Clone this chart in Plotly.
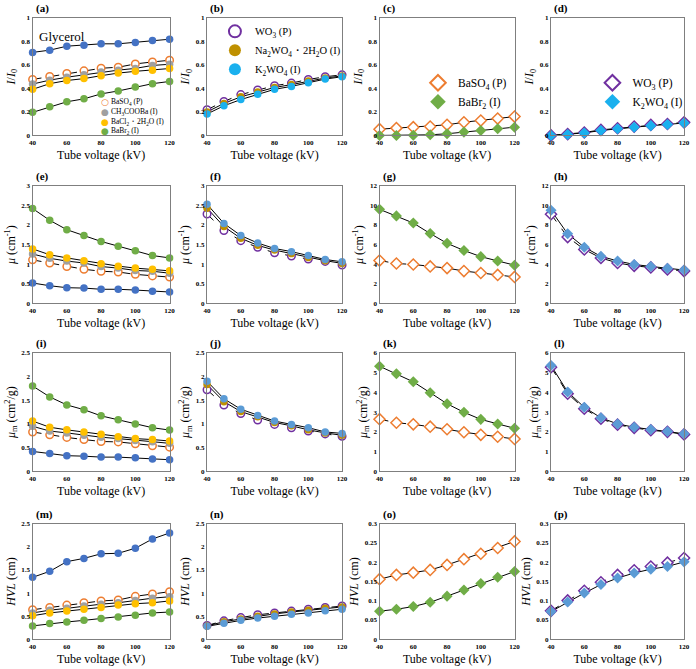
import plotly.graph_objects as go

# ---------------- data ----------------
voltage = [40, 50, 60, 70, 80, 90, 100, 110, 120]
x_ticks = [40, 60, 80, 100, 120]

# (a) I/I0, Ba compounds
a_glycerol = [0.706, 0.725, 0.759, 0.767, 0.779, 0.779, 0.790, 0.807, 0.818]
a_baso4 = [0.476, 0.501, 0.527, 0.549, 0.571, 0.580, 0.608, 0.625, 0.639]
a_acetate = [0.437, 0.470, 0.495, 0.515, 0.540, 0.555, 0.570, 0.595, 0.605]
a_bacl2 = [0.392, 0.440, 0.467, 0.483, 0.508, 0.530, 0.545, 0.555, 0.569]
a_babr2 = [0.196, 0.244, 0.286, 0.311, 0.353, 0.378, 0.412, 0.440, 0.459]
# (b) I/I0, W compounds
b_wo3 = [0.218, 0.289, 0.347, 0.387, 0.423, 0.445, 0.476, 0.499, 0.515]
b_na2wo4 = [0.200, 0.272, 0.328, 0.370, 0.408, 0.432, 0.462, 0.488, 0.506]
b_k2wo4 = [0.182, 0.252, 0.305, 0.350, 0.392, 0.417, 0.448, 0.479, 0.499]
# (c)
c_baso4 = [0.053, 0.062, 0.070, 0.076, 0.090, 0.112, 0.126, 0.143, 0.160]
c_babr2 = [0.000, 0.000, 0.001, 0.005, 0.014, 0.028, 0.042, 0.056, 0.070]
# (d)
d_wo3 = [0.000, 0.011, 0.025, 0.047, 0.061, 0.075, 0.089, 0.097, 0.111]
d_k2wo4 = [0.000, 0.008, 0.021, 0.042, 0.057, 0.070, 0.083, 0.093, 0.106]
# (e) mu
e_glycerol = [0.52, 0.45, 0.40, 0.39, 0.36, 0.36, 0.34, 0.31, 0.29]
e_baso4 = [1.11, 1.03, 0.94, 0.87, 0.82, 0.80, 0.74, 0.70, 0.67]
e_acetate = [1.26, 1.15, 1.08, 1.03, 0.94, 0.90, 0.84, 0.82, 0.77]
e_bacl2 = [1.39, 1.24, 1.16, 1.09, 1.01, 0.95, 0.90, 0.87, 0.83]
e_babr2 = [2.42, 2.12, 1.88, 1.73, 1.58, 1.46, 1.34, 1.22, 1.16]
# (f)
f_wo3 = [2.28, 1.86, 1.60, 1.43, 1.29, 1.21, 1.13, 1.07, 0.98]
f_na2wo4 = [2.43, 1.96, 1.66, 1.48, 1.36, 1.27, 1.17, 1.09, 1.02]
f_k2wo4 = [2.53, 2.04, 1.73, 1.54, 1.40, 1.32, 1.22, 1.12, 1.06]
# (g)
g_baso4 = [4.37, 4.07, 3.97, 3.77, 3.60, 3.30, 3.10, 2.90, 2.70]
g_babr2 = [9.60, 8.93, 8.20, 7.13, 6.13, 5.40, 4.77, 4.33, 3.90]
# (h)
h_wo3 = [9.10, 6.77, 5.50, 4.63, 4.13, 3.83, 3.67, 3.47, 3.30]
h_k2wo4 = [9.50, 7.10, 5.73, 4.80, 4.33, 3.97, 3.77, 3.57, 3.40]
# (i) mu_m
i_glycerol = [0.42, 0.375, 0.33, 0.32, 0.30, 0.30, 0.285, 0.26, 0.245]
i_baso4 = [0.83, 0.77, 0.715, 0.67, 0.63, 0.62, 0.58, 0.54, 0.51]
i_acetate = [0.95, 0.85, 0.81, 0.76, 0.72, 0.69, 0.65, 0.625, 0.59]
i_bacl2 = [1.06, 0.93, 0.875, 0.83, 0.78, 0.73, 0.69, 0.67, 0.64]
i_babr2 = [1.80, 1.57, 1.40, 1.30, 1.17, 1.09, 1.00, 0.92, 0.87]
# (j)
j_wo3 = [1.72, 1.40, 1.22, 1.08, 0.99, 0.92, 0.85, 0.79, 0.74]
j_na2wo4 = [1.83, 1.47, 1.26, 1.15, 1.03, 0.96, 0.875, 0.81, 0.76]
j_k2wo4 = [1.90, 1.53, 1.31, 1.18, 1.06, 0.99, 0.92, 0.83, 0.80]
# (k)
k_baso4 = [2.64, 2.46, 2.38, 2.26, 2.13, 1.98, 1.85, 1.75, 1.64]
k_babr2 = [5.32, 4.94, 4.53, 3.98, 3.42, 2.99, 2.63, 2.40, 2.18]
# (l)
l_wo3 = [5.27, 3.93, 3.17, 2.66, 2.36, 2.20, 2.08, 2.00, 1.87]
l_k2wo4 = [5.36, 4.02, 3.24, 2.71, 2.40, 2.23, 2.12, 2.02, 1.90]
# (m) HVL
m_glycerol = [1.34, 1.47, 1.68, 1.75, 1.85, 1.86, 1.97, 2.17, 2.30]
m_baso4 = [0.64, 0.69, 0.74, 0.79, 0.83, 0.85, 0.93, 0.98, 1.03]
m_acetate = [0.57, 0.63, 0.67, 0.72, 0.76, 0.79, 0.84, 0.89, 0.92]
m_bacl2 = [0.51, 0.57, 0.61, 0.65, 0.69, 0.74, 0.77, 0.79, 0.83]
m_babr2 = [0.29, 0.34, 0.375, 0.41, 0.45, 0.48, 0.52, 0.57, 0.59]
# (n)
n_wo3 = [0.30, 0.40, 0.47, 0.53, 0.57, 0.61, 0.65, 0.69, 0.72]
n_na2wo4 = [0.29, 0.38, 0.44, 0.50, 0.55, 0.59, 0.63, 0.67, 0.70]
n_k2wo4 = [0.28, 0.35, 0.41, 0.46, 0.50, 0.54, 0.57, 0.62, 0.65]
# (o)
o_baso4 = [0.156, 0.167, 0.173, 0.180, 0.193, 0.208, 0.222, 0.237, 0.254]
o_babr2 = [0.073, 0.078, 0.085, 0.096, 0.112, 0.128, 0.145, 0.161, 0.176]
# (p)
p_wo3 = [0.074, 0.101, 0.126, 0.148, 0.167, 0.179, 0.189, 0.199, 0.211]
p_k2wo4 = [0.072, 0.097, 0.120, 0.142, 0.159, 0.172, 0.182, 0.189, 0.201]

panel_labels = ["(a)", "(b)", "(c)", "(d)", "(e)", "(f)", "(g)", "(h)",
                "(i)", "(j)", "(k)", "(l)", "(m)", "(n)", "(o)", "(p)"]
x_title = "Tube voltage (kV)"
y_titles = ["<i>I</i>/<i>I</i><sub>0</sub>",
            "<i>μ</i> (cm<sup>-1</sup>)",
            "<i>μ</i><sub>m</sub> (cm<sup>2</sup>/g)",
            "<i>HVL</i> (cm)"]

NAME_BASO4 = "BaSO<sub>4</sub> (P)"
NAME_ACET = "CH<sub>3</sub>COOBa (I)"
NAME_BACL = "BaCl<sub>2</sub>・2H<sub>2</sub>O (I)"
NAME_BABR = "BaBr<sub>2</sub> (I)"
NAME_WO3 = "WO<sub>3</sub> (P)"
NAME_NAWO = "Na<sub>2</sub>WO<sub>4</sub>・2H<sub>2</sub>O (I)"
NAME_KWO = "K<sub>2</sub>WO<sub>4</sub> (I)"

# ---------------- styles ----------------
C_GLY = "#4472C4"
C_BASO4 = "#ED7D31"
C_ACET = "#A0A0A0"
C_BACL = "#FFC000"
C_BABR = "#70AD47"
C_WO3 = "#7030A0"
C_NAWO = "#BF9000"
C_KWO_B = "#1AB0EE"
C_KWO = "#5B9BD5"

SERIF = "Liberation Serif"
W, H = 696, 669
col_px = [(29, 168), (206, 343), (381, 518), (555, 690)]
row_px = [(14, 133), (184, 303), (353, 473), (526, 643)]

# series: (name, values, color, symbol, hollow, dash)
def ba_set(gly, baso4, acet, bacl, babr):
    return [("Glycerol", gly, C_GLY, "circle", False, "solid"),
            (NAME_BASO4, baso4, C_BASO4, "circle", True, "dash"),
            (NAME_ACET, acet, C_ACET, "circle", False, "solid"),
            (NAME_BACL, bacl, C_BACL, "circle", False, "solid"),
            (NAME_BABR, babr, C_BABR, "circle", False, "solid")]

def w_set(wo3, nawo, kwo, kcol):
    return [(NAME_WO3, wo3, C_WO3, "circle", True, "dash"),
            (NAME_NAWO, nawo, C_NAWO, "circle", False, "solid"),
            (NAME_KWO, kwo, kcol, "circle", False, "solid")]

def bad_set(baso4, babr, dash):
    return [(NAME_BASO4, baso4, C_BASO4, "diamond", True, dash),
            (NAME_BABR, babr, C_BABR, "diamond", False, "solid")]

def wd_set(wo3, kwo, kcol):
    return [(NAME_WO3, wo3, C_WO3, "diamond", True, "dash"),
            (NAME_KWO, kwo, kcol, "diamond", False, "solid")]

panels = [
    ba_set(a_glycerol, a_baso4, a_acetate, a_bacl2, a_babr2),
    w_set(b_wo3, b_na2wo4, b_k2wo4, C_KWO_B),
    bad_set(c_baso4, c_babr2, "solid"),
    wd_set(d_wo3, d_k2wo4, C_KWO_B),
    ba_set(e_glycerol, e_baso4, e_acetate, e_bacl2, e_babr2),
    w_set(f_wo3, f_na2wo4, f_k2wo4, C_KWO),
    bad_set(g_baso4, g_babr2, "dash"),
    wd_set(h_wo3, h_k2wo4, C_KWO),
    ba_set(i_glycerol, i_baso4, i_acetate, i_bacl2, i_babr2),
    w_set(j_wo3, j_na2wo4, j_k2wo4, C_KWO),
    bad_set(k_baso4, k_babr2, "dash"),
    wd_set(l_wo3, l_k2wo4, C_KWO),
    ba_set(m_glycerol, m_baso4, m_acetate, m_bacl2, m_babr2),
    w_set(n_wo3, n_na2wo4, n_k2wo4, C_KWO),
    bad_set(o_baso4, o_babr2, "solid"),
    wd_set(p_wo3, p_k2wo4, C_KWO),
]

y_ranges = {(0, 0): (1, 0.2), (0, 1): (1, 0.2), (0, 2): (1, 0.2), (0, 3): (1, 0.2),
            (1, 0): (3, 0.5), (1, 1): (3, 0.5), (1, 2): (12, 2), (1, 3): (12, 2),
            (2, 0): (2.5, 0.5), (2, 1): (2.5, 0.5), (2, 2): (6, 1), (2, 3): (6, 1),
            (3, 0): (2.5, 0.5), (3, 1): (2.5, 0.5), (3, 2): (0.3, 0.05), (3, 3): (0.3, 0.05)}

legend_for_panel = {1: "legend", 2: "legend2", 3: "legend3"}

fig = go.Figure()
layout = {}
annotations = []

for idx, series in enumerate(panels):
    r, c = divmod(idx, 4)
    n = idx + 1
    xa = "x" if n == 1 else f"x{n}"
    ya = "y" if n == 1 else f"y{n}"
    x0, x1 = col_px[c]
    y0, y1 = row_px[r]
    ymax, dy = y_ranges[(r, c)]
    axis_common = dict(showline=True, linecolor="#7f7f7f", linewidth=1.3, mirror=True,
                       showgrid=False, zeroline=False, ticks="",
                       tickfont=dict(family=SERIF, size=7, color="#000", weight="bold"))
    layout["xaxis" if n == 1 else f"xaxis{n}"] = dict(
        domain=[x0 / W, x1 / W], anchor=ya, range=[40, 120], tickvals=x_ticks,
        title=dict(text=x_title, font=dict(family=SERIF, size=12, color="#000"), standoff=4),
        **axis_common)
    layout["yaxis" if n == 1 else f"yaxis{n}"] = dict(
        domain=[1 - y1 / H, 1 - y0 / H], anchor=xa, range=[0, ymax], dtick=dy, tick0=0,
        title=dict(text=y_titles[r], font=dict(family=SERIF, size=12, color="#000"), standoff=3),
        **axis_common)
    for (name, vals, color, symbol, hollow, dash) in series:
        fig.add_trace(go.Scatter(
            x=voltage, y=vals, mode="lines", xaxis=xa, yaxis=ya,
            line=dict(color="#000", width=1, dash=dash), showlegend=False,
            hoverinfo="skip"))
    for (name, vals, color, symbol, hollow, dash) in series:
        msize = 7.5 if symbol == "circle" else 8.5
        marker = dict(symbol=symbol, size=msize,
                      color="#ffffff" if hollow else color,
                      line=dict(color=color, width=1.5 if hollow else 0))
        show = idx in legend_for_panel
        kw = dict(legend=legend_for_panel[idx]) if show else {}
        fig.add_trace(go.Scatter(
            x=voltage, y=vals, mode="markers", xaxis=xa, yaxis=ya, name=name,
            marker=marker, cliponaxis=False, showlegend=show, **kw))
    annotations.append(dict(text="<b>" + panel_labels[idx] + "</b>", xref="paper", yref="paper",
                            x=(x0 + 1) / W, y=1 - (y0 - 9) / H, xanchor="left", yanchor="middle",
                            showarrow=False, font=dict(family=SERIF, size=11, color="#000")))

# panel (a) text labels
annotations.append(dict(text="Glycerol", xref="paper", yref="paper", x=33 / W, y=1 - 33 / H,
                        xanchor="left", yanchor="middle", showarrow=False,
                        font=dict(family=SERIF, size=13, color="#000")))

a_legend_entries = [("○", C_BASO4, NAME_BASO4), ("●", C_ACET, NAME_ACET),
                    ("●", C_BACL, NAME_BACL), ("●", C_BABR, NAME_BABR)]
for k, (ch, color, name) in enumerate(a_legend_entries):
    ypx = 99 + 10 * k
    annotations.append(dict(text=ch, xref="paper", yref="paper", x=102 / W, y=1 - ypx / H,
                            xanchor="center", yanchor="middle", showarrow=False,
                            font=dict(family="DejaVu Sans", size=9, color=color)))
    annotations.append(dict(text=name, xref="paper", yref="paper", x=107 / W, y=1 - ypx / H,
                            xanchor="left", yanchor="middle", showarrow=False,
                            font=dict(family=SERIF, size=7.5, color="#000")))

leg_common = dict(bgcolor="rgba(0,0,0,0)", borderwidth=0, xanchor="left", yanchor="top",
                  itemsizing="constant", tracegroupgap=0)
layout["legend"] = dict(x=214 / W, y=1 - 13 / H, font=dict(family=SERIF, size=10.5, color="#000"),
                        **leg_common)
layout["legend2"] = dict(x=420 / W, y=1 - 65 / H, font=dict(family=SERIF, size=11.5, color="#000"),
                         **leg_common)
layout["legend3"] = dict(x=597 / W, y=1 - 65 / H, font=dict(family=SERIF, size=11.5, color="#000"),
                         **leg_common)

fig.update_layout(width=W, height=H, margin=dict(l=0, r=0, t=0, b=0),
                  paper_bgcolor="white", plot_bgcolor="white",
                  annotations=annotations, **layout)
fig.write_html("out.html", config={"displayModeBar": False},
               post_script="document.body.style.margin='0';document.body.style.padding='0';")
